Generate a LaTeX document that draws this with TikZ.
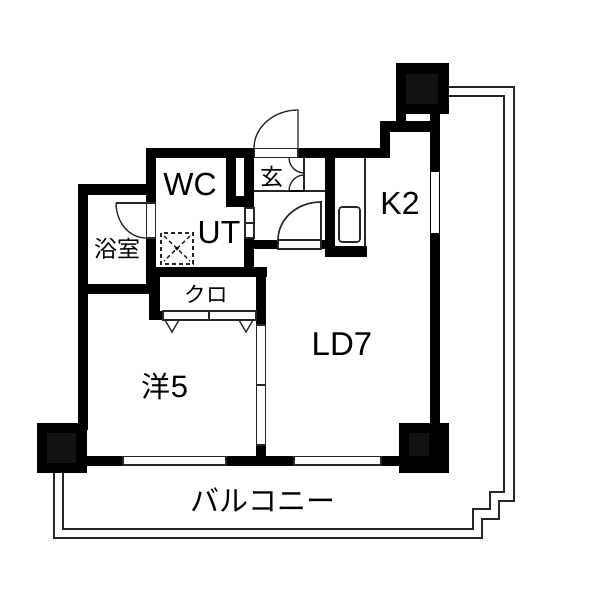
\documentclass[tikz,border=0pt]{standalone}
\usepackage{fontspec}
\setmainfont{Liberation Sans}
\newfontfamily\jpfont{Noto Sans CJK JP}
\tikzset{
 wall/.style={fill=black,draw=none},
 column/.style={fill=black,draw=none},
 core/.style={fill=black!93,draw=none},
 opening/.style={fill=white,draw=black!85,line width=1.3pt},
 thin line/.style={draw=black!85,line width=1.3pt},
 mid line/.style={draw=black!85,line width=1.6pt},
 lbl/.style={inner sep=0pt,font=\fontsize{32}{32}\selectfont},
 jplbl/.style={inner sep=0pt,font=\jpfont\fontsize{29}{29}\selectfont},
 small jp/.style={inner sep=0pt,font=\jpfont\fontsize{23}{23}\selectfont},
 dash vent/.style={draw=black!85,line width=1.4pt,dash pattern=on 4pt off 3pt}
}
\begin{document}
\begin{tikzpicture}[x=1pt,y=-1pt]
\useasboundingbox (0,0) rectangle (600,600);
\fill[white] (0,0) rectangle (600,600);
% balcony
\draw[mid line] (449,87) -- (514,87) -- (514,501) -- (499,501) -- (499,519) -- (482,519) -- (482,538) -- (54,538) -- (54,473);
\draw[mid line] (449,96) -- (504,96) -- (504,492) -- (490,492) -- (490,509) -- (473,509) -- (473,529) -- (63,529) -- (63,473);
% bath
\fill[wall] (78,184) rectangle (156,195);
\fill[wall] (78,184) rectangle (88,430);
\fill[wall] (78,284) rectangle (150,294);
% wc
\fill[wall] (146,148) rectangle (254,158);
\fill[wall] (146,148) rectangle (156,284);
\fill[wall] (226,148) rectangle (254,207);
\fill[white] (236,158) rectangle (243.5,196);
\fill[wall] (244,238) rectangle (254,270);
\fill[wall] (146,267) rectangle (267,277);
% closet
\fill[wall] (149,270) rectangle (160,320);
\fill[wall] (149,311) rectangle (163,320);
\fill[wall] (256,267) rectangle (266,325);
\fill[wall] (256,445) rectangle (266,460);
% top and right
\fill[wall] (298,148) rectangle (390,158);
\fill[wall] (380,121) rectangle (390,158);
\fill[wall] (380,121) rectangle (440,132);
\fill[wall] (396,110) rectangle (406,125);
\fill[wall] (430,110) rectangle (440,430);
\fill[wall] (325,148) rectangle (335,257);
\fill[wall] (325,246) rectangle (367,257);
\fill[wall] (254,240) rectangle (325,249);
% bottom
\fill[wall] (80,456) rectangle (405,466);
% columns
\fill[column] (396,63) rectangle (449,114);
\fill[core] (406,74) rectangle (438,104);
\fill[column] (37,423) rectangle (87,473);
\fill[core] (47,433) rectangle (76,463);
\fill[column] (399,423) rectangle (449,473);
\fill[core] (409,433) rectangle (429,456);
% openings
\fill[white] (406.5,114.5) rectangle (430,121);
\fill[white] (431,172) rectangle (439,233);
\draw[opening] (123,456.5) rectangle (226,465);
\draw[opening] (294,456.5) rectangle (381,465);
\draw[opening] (146.5,203) rectangle (155.5,238);
\draw[opening] (245,208) rectangle (254,238);
\draw[thin line] (245,223) -- (254,223);
\draw[opening] (163,311) rectangle (256,320);
\draw[thin line] (209,311) -- (209,320);
\draw[opening] (256.5,325) rectangle (265.5,445);
\draw[thin line] (256.5,385) -- (265.5,385);
\draw[opening] (254.5,148.5) rectangle (298,157.5);
\draw[opening] (278,240) rectangle (321,249);
% doors
\draw[thin line] (116,203) -- (146,203);
\draw[thin line] (116,203) .. controls (116,222) and (129,238) .. (146,238);
\draw[thin line] (298,148) -- (298,110) .. controls (274,110) and (254,127) .. (254,148);
\draw[mid line] (321,240) -- (321,202) .. controls (297,202) and (278,219) .. (278,240);
% genkan
\draw[thin line] (254,191) -- (325,191);
\draw[thin line] (304,158) -- (304,191);
\draw[thin line] (289,158) .. controls (289,166) and (296,173) .. (304,173);
\draw[thin line] (304,175) .. controls (296,175) and (289,182) .. (289,191);
\fill[wall] (289,189.5) rectangle (305,192);
% kitchen
\draw[thin line] (365,158) -- (365,246);
\draw[mid line,rounded corners=3pt] (339,207) rectangle (360,242);
% closet triangles
\draw[thin line] (165,320) -- (172,332) -- (179,320);
\draw[thin line] (239,320) -- (246,332) -- (253,320);
% vent
\draw[dash vent] (161,233) rectangle (193,264);
\draw[dash vent] (164,236) -- (190,261);
\draw[dash vent] (190,236) -- (164,261);
\fill[black] (177,248.5) circle (1.8pt);
% labels
\node[lbl] (wc) at (190,184) {WC};
\node[lbl] (ut) at (219,233) {UT};
\node[lbl] (k2) at (400,203) {K2};
\node[lbl,font=\fontsize{33}{33}\selectfont] (ld) at (342,344) {LD7};
\node[small jp] (bath) at (117,249) {浴室};
\node[small jp] (gen) at (272,177) {玄};
\node[small jp,font=\jpfont\fontsize{21.5}{21.5}\selectfont] (clo) at (206,294) {クロ};
\node[lbl,font=\fontsize{31}{31}\selectfont] (yo) at (165,386) {{\jpfont\fontsize{29}{29}\selectfont 洋}5};
\node[jplbl] (bal) at (263,500) {バルコニー};
\end{tikzpicture}
\end{document}
